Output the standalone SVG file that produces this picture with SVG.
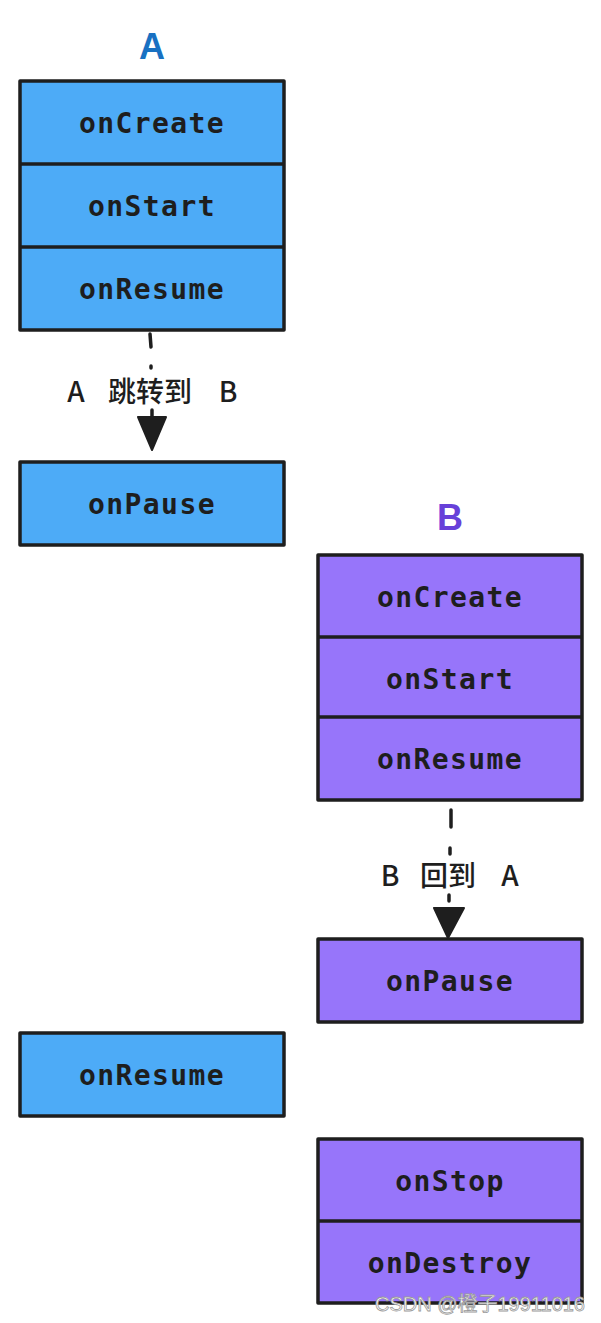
<svg xmlns="http://www.w3.org/2000/svg" width="601" height="1323" viewBox="0 0 601 1323">
<style>
.bx{stroke:#1e1e1e;stroke-width:3.5;stroke-linejoin:round}
.blue{fill:#4dabf7}
.purple{fill:#9775fa}
.dv{stroke:#1e1e1e;stroke-width:3.5}
.t{font-family:"DejaVu Sans Mono","Liberation Mono",monospace;font-size:28px;font-weight:bold;letter-spacing:1.4px;fill:#1e1e1e;text-anchor:middle;dominant-baseline:central}
.lb{font-family:"Noto Sans CJK SC","Noto Sans",sans-serif;font-size:28px;font-weight:500;fill:#1e1e1e;text-anchor:middle;dominant-baseline:central}
.ttl{font-family:"Liberation Sans","Noto Sans",sans-serif;font-size:36px;font-weight:bold;text-anchor:middle;dominant-baseline:central}
.cn{stroke:#1e1e1e;stroke-width:3.5;stroke-linecap:round;fill:none}
</style>
<rect width="601" height="1323" fill="#ffffff"/>
<g id="titleA"><text class="ttl" x="152" y="46" fill="#1971c2">A</text></g>
<g id="titleB"><text class="ttl" x="450" y="517" fill="#6741d9">B</text></g>
<g id="A1">
<rect class="bx blue" x="20" y="81" width="264" height="249"/>
<line class="dv" x1="20" y1="164" x2="284" y2="164"/>
<line class="dv" x1="20" y1="247" x2="284" y2="247"/>
<text class="t" x="152" y="123">onCreate</text>
<text class="t" x="152" y="206">onStart</text>
<text class="t" x="152" y="289">onResume</text>
</g>
<g id="A2">
<rect class="bx blue" x="20" y="462" width="264" height="83"/>
<text class="t" x="152" y="504">onPause</text>
</g>
<g id="B1">
<rect class="bx purple" x="318" y="555" width="264" height="245"/>
<line class="dv" x1="318" y1="637" x2="582" y2="637"/>
<line class="dv" x1="318" y1="717" x2="582" y2="717"/>
<text class="t" x="450" y="597">onCreate</text>
<text class="t" x="450" y="679">onStart</text>
<text class="t" x="450" y="759">onResume</text>
</g>
<g id="B2">
<rect class="bx purple" x="318" y="939" width="264" height="83"/>
<text class="t" x="450" y="981">onPause</text>
</g>
<g id="A3">
<rect class="bx blue" x="20" y="1033" width="264" height="83"/>
<text class="t" x="152" y="1075">onResume</text>
</g>
<g id="B3">
<rect class="bx purple" x="318" y="1139" width="264" height="164"/>
<line class="dv" x1="318" y1="1221" x2="582" y2="1221"/>
<text class="t" x="450" y="1181">onStop</text>
<text class="t" x="450" y="1263">onDestroy</text>
</g>
<g id="connectors">
<line class="cn" x1="150" y1="334" x2="151" y2="347"/>
<line class="cn" x1="151" y1="366" x2="151" y2="368"/>
<line class="cn" x1="152" y1="410" x2="152" y2="420"/>
<polygon points="138,417 166,417 152,450" fill="#1e1e1e" stroke="#1e1e1e" stroke-width="2" stroke-linejoin="round"/>
<text class="lb" y="390"><tspan x="76">A</tspan><tspan x="150">跳转到</tspan><tspan x="228">B</tspan></text>
<line class="cn" x1="451" y1="810" x2="451" y2="827"/>
<line class="cn" x1="450" y1="848" x2="450" y2="854"/>
<line class="cn" x1="449" y1="895" x2="449" y2="901"/>
<polygon points="434,908 464,908 448,938" fill="#1e1e1e" stroke="#1e1e1e" stroke-width="2" stroke-linejoin="round"/>
<text class="lb" y="874"><tspan x="390">B</tspan><tspan x="448">回到</tspan><tspan x="510">A</tspan></text>
</g>
<text x="585" y="1311" text-anchor="end" font-family="Liberation Sans,'Noto Sans CJK SC',sans-serif" font-size="20" fill="#ffffff" stroke="#9a9a9a" stroke-width="0.8">CSDN @橙子19911016</text>
</svg>
